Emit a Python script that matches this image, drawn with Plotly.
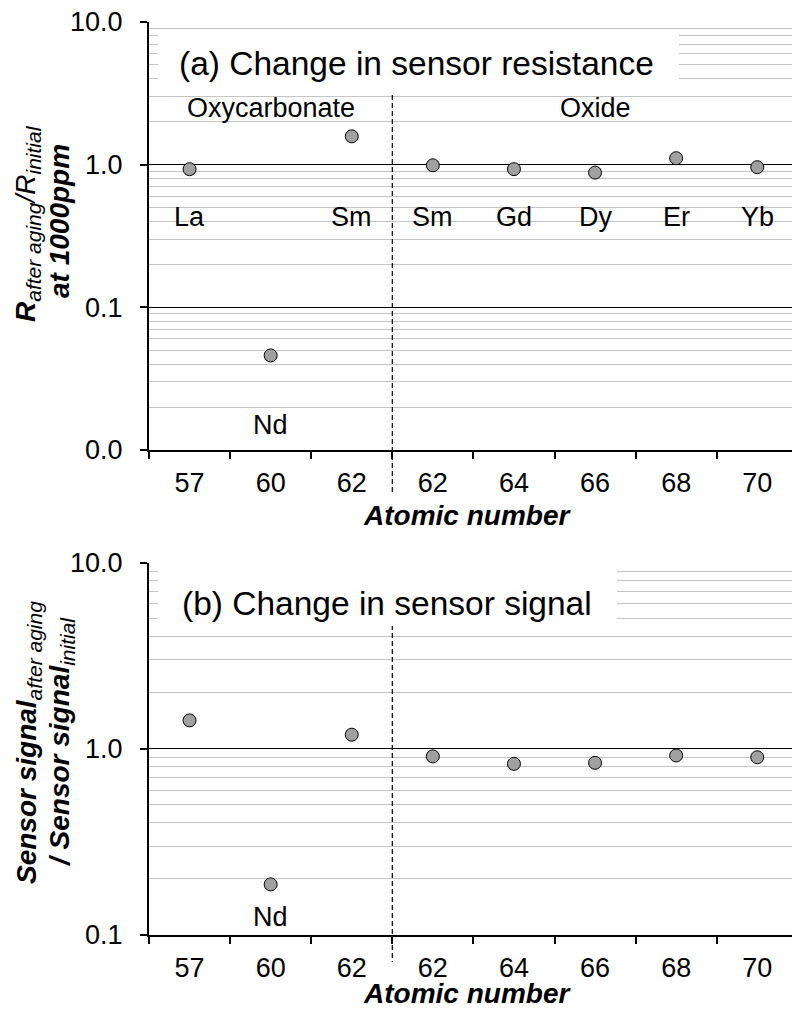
import plotly.graph_objects as go

# ---------------- data ----------------
atomic_numbers = ["57", "60", "62", "62", "64", "66", "68", "70"]
elements = ["La", "Nd", "Sm", "Sm", "Gd", "Dy", "Er", "Yb"]
group_names = ["Oxycarbonate", "Oxide"]
group_sizes = [3, 5]
resistance_ratio = [0.93, 0.046, 1.58, 0.99, 0.93, 0.88, 1.11, 0.96]
signal_ratio = [1.42, 0.187, 1.19, 0.91, 0.83, 0.84, 0.92, 0.90]
top_ticks = [0.01, 0.1, 1, 10]
top_ticktext = ["0.0", "0.1", "1.0", "10.0"]
bot_ticks = [0.1, 1, 10]
bot_ticktext = ["0.1", "1.0", "10.0"]
low_element = "Nd"

# ---------------- layout geometry ----------------
W, H = 792, 1010
L, R, T, B = 149, 0, 0, 0
PW, PH = W - L - R, H - T - B
CAT_W = 81.1
XMIN = -0.5
XMAX = XMIN + PW / CAT_W
FONT = "Liberation Sans, Arial, sans-serif"


def fx(px):
    return (px - L) / PW


def fy(py):
    return 1 - (py - T) / PH


def cx(i):
    return (i - XMIN) / (XMAX - XMIN)


idx = list(range(len(elements)))
split = group_sizes[0] - 0.5

fig = go.Figure()
marker = dict(size=13, color="#a0a0a0", line=dict(color="black", width=1))
fig.add_trace(go.Scatter(x=idx, y=resistance_ratio, mode="markers", marker=marker,
                         xaxis="x", yaxis="y", showlegend=False, cliponaxis=False))
fig.add_trace(go.Scatter(x=idx, y=signal_ratio, mode="markers", marker=marker,
                         xaxis="x2", yaxis="y2", showlegend=False, cliponaxis=False))


def minor_vals(lo, hi):
    vals = []
    for e in range(lo, hi):
        for m in range(2, 10):
            vals.append(m * 10 ** e)
    return vals


xcommon = dict(range=[XMIN, XMAX], domain=[0, 1], tickmode="array", tickvals=idx,
               ticktext=atomic_numbers, ticks="", showgrid=False, zeroline=False,
               showline=True, linecolor="black", linewidth=2, automargin=False,
               tickfont=dict(family=FONT, size=27, color="black"),
               ticklabelstandoff=8,
               minor=dict(tickmode="array", tickvals=[i + 0.5 for i in idx[:-1]] + [XMIN],
                          ticks="outside", ticklen=7, tickcolor="black", tickwidth=1.5,
                          showgrid=False))
ycommon = dict(type="log", tickmode="array", ticks="outside", ticklen=7,
               tickcolor="black", tickwidth=1.5, showline=True, linecolor="black",
               linewidth=2, showgrid=True, gridcolor="black", gridwidth=1,
               zeroline=False, automargin=False,
               tickfont=dict(family=FONT, size=27, color="black"),
               ticklabelstandoff=12)

fig.update_layout(
    width=W, height=H, margin=dict(l=L, r=R, t=T, b=B, autoexpand=False),
    paper_bgcolor="white", plot_bgcolor="white", showlegend=False,
    xaxis=dict(anchor="y", **xcommon),
    xaxis2=dict(anchor="y2", **xcommon),
    yaxis=dict(anchor="x", domain=[fy(450), fy(22)], range=[-2, 1],
               tickvals=top_ticks, ticktext=top_ticktext,
               minor=dict(tickmode="array", tickvals=minor_vals(-2, 1), showgrid=True,
                          gridcolor="#c4c4c4", gridwidth=1, ticks=""),
               **ycommon),
    yaxis2=dict(anchor="x2", domain=[fy(935), fy(562.5)], range=[-1, 1],
                tickvals=bot_ticks, ticktext=bot_ticktext,
                minor=dict(tickmode="array", tickvals=minor_vals(-1, 1), showgrid=True,
                           gridcolor="#c4c4c4", gridwidth=1, ticks=""),
                **ycommon),
)

shapes = []
# dashed separators between groups
for y0, y1 in [(95, 492), (625, 962)]:
    shapes.append(dict(type="line", xref="paper", yref="paper", x0=cx(split), x1=cx(split),
                       y0=fy(y0), y1=fy(y1), line=dict(color="black", width=1.2, dash="5px,3px")))
# white boxes behind panel titles
for x0, x1, y0, y1 in [(158, 679, 31, 93), (158, 617, 566, 626)]:
    shapes.append(dict(type="rect", xref="paper", yref="paper", x0=fx(x0), x1=fx(x1),
                       y0=fy(y0), y1=fy(y1), fillcolor="white", line=dict(width=0),
                       layer="above"))
fig.update_layout(shapes=shapes)

ann = []


def text(x, y, s, size=27, **kw):
    d = dict(xref="paper", yref="paper", x=x, y=y, text=s, showarrow=False,
             font=dict(family=FONT, size=size, color="black"))
    d.update(kw)
    ann.append(d)


SUB = '<sub><span style="font-size:21px"><i>%s</i></span></sub>'

# panel titles
text(fx(177), fy(63), "(a) Change in sensor resistance", size=33.5, xanchor="left", yanchor="middle")
text(fx(180), fy(603), "(b) Change in sensor signal", size=33.5, xanchor="left", yanchor="middle")

# group labels
start = 0
for name, n in zip(group_names, group_sizes):
    text(cx(start + (n - 1) / 2), fy(108), name, xanchor="center", yanchor="middle")
    start += n

# element labels
for i, el in enumerate(elements):
    if el == low_element:
        text(cx(i), fy(425), el, xanchor="center", yanchor="middle")
        text(cx(i), fy(917), el, xanchor="center", yanchor="middle")
    else:
        text(cx(i), fy(217), el, xanchor="center", yanchor="middle")

# x-axis titles
for yy in (515, 993):
    text(fx(467), fy(yy), "<b><i>Atomic number</i></b>", size=28, xanchor="center", yanchor="middle")

# y-axis titles
text(fx(28), fy(223),
     "<b><i>R</i></b>" + SUB % "after aging" + "<i>/R</i>" + SUB % "initial",
     size=28, textangle=-90, xanchor="center", yanchor="middle")
text(fx(60), fy(221), "<b><i>at 1000ppm</i></b>", size=28, textangle=-90,
     xanchor="center", yanchor="middle")
text(fx(28), fy(742), "<b><i>Sensor signal</i></b>" + SUB % "after aging",
     size=28, textangle=-90, xanchor="center", yanchor="middle")
text(fx(61), fy(742), "<b><i>/ Sensor signal</i></b>" + SUB % "initial",
     size=28, textangle=-90, xanchor="center", yanchor="middle")

fig.update_layout(annotations=ann)
fig.write_html("out.html")
